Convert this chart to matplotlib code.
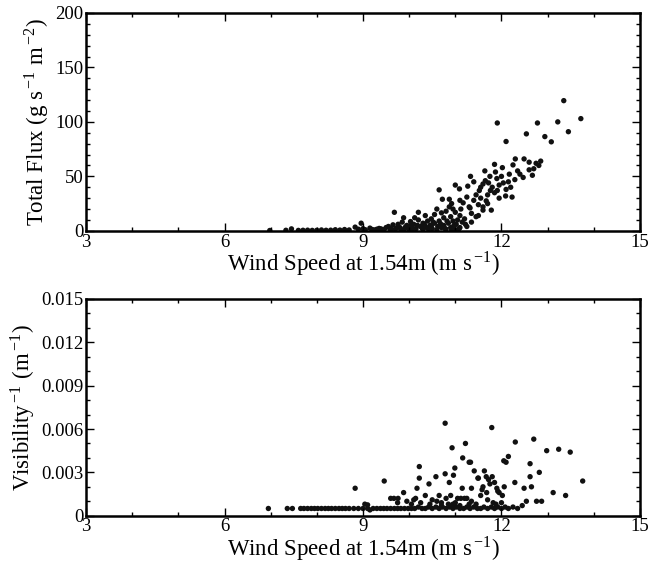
import matplotlib
matplotlib.use("Agg")
import matplotlib.pyplot as plt
from matplotlib.ticker import MultipleLocator, FixedLocator, FuncFormatter

plt.rcParams['font.family'] = ['Liberation Serif', 'DejaVu Serif']
plt.rcParams['mathtext.fontset'] = 'stix'

# ---- Top panel: total flux vs wind speed ----
flux_x = [6.98, 7.33, 7.45, 7.6, 7.7, 7.8, 7.9, 8.0, 8.1, 8.2, 8.3, 8.4, 8.5, 8.6, 8.7,
          8.83, 8.9, 8.96, 9.0, 9.05, 9.15, 9.2, 9.25, 9.3, 9.35, 9.39, 9.45, 9.5,
          9.55, 9.6, 9.65, 9.68, 9.7, 9.76, 9.8, 9.85, 9.88, 9.9, 9.95, 10.0, 10.03, 10.05,
          10.1, 10.12, 10.15, 10.2, 10.2, 10.25, 10.3, 10.3, 10.35, 10.38, 10.4, 10.45,
          10.48, 10.48, 10.5, 10.55, 10.55, 10.6, 10.6, 10.65, 10.65, 10.7, 10.7, 10.72,
          10.75, 10.75, 10.8, 10.8, 10.85, 10.87, 10.87, 10.9, 10.9, 10.92, 10.95, 10.97,
          11.0, 11.0, 11.0, 11.05, 11.09, 11.1, 11.1, 11.12, 11.17, 11.2, 11.22, 11.27,
          11.3, 11.32, 11.33, 11.35, 11.4, 11.45, 11.5, 11.52, 11.55, 11.6, 11.65, 11.64,
          11.67, 11.7, 11.72, 11.76, 11.78, 11.8, 11.85, 11.87, 11.9, 11.91, 11.95, 11.91,
          12.02, 12.04, 12.09, 12.1, 12.17, 12.2, 12.23, 12.25, 12.29, 12.3, 12.35, 12.47,
          12.49, 12.54, 12.6, 12.67, 12.7, 12.75, 12.78, 12.81, 12.94, 13.08, 13.22, 13.35,
          13.45, 13.72,
          11.4, 11.6, 11.75, 12.0, 11.45, 11.25, 11.85, 12.15, 11.95, 12.4, 12.6, 12.85,
          11.1, 10.95, 11.55, 11.7, 12.1, 11.5, 11.35, 11.6,
          9.6, 9.72, 9.82, 9.92, 10.02, 10.08, 10.18, 10.28, 10.33, 10.42, 10.52, 10.62,
          10.68, 10.78, 10.82, 10.92, 11.02, 11.08, 11.15, 11.25]
flux_y = [0.3, 0.5, 1.8, 0.4, 0.5, 0.6, 0.4, 0.5, 0.8, 0.5, 0.6, 1.0, 0.7, 1.2, 0.8,
          3.4, 1.5, 7.0, 2.0, 1.0, 2.5, 1.2, 0.8, 1.5, 2.2, 1.8, 1.0, 3.0,
          4.0, 2.0, 5.5, 17.0, 1.5, 6.0, 3.0, 8.0, 12.0, 2.0, 5.0, 1.0, 8.5, 3.0,
          6.0, 12.0, 2.0, 17.0, 10.0, 4.0, 7.0, 1.5, 14.0, 3.0, 9.0, 5.0,
          11.0, 4.6, 2.0, 15.0, 7.0, 1.0, 20.0, 37.6, 9.0, 16.5, 3.0, 29.0,
          12.0, 5.0, 18.0, 1.5, 7.0, 29.0, 22.0, 13.0, 3.0, 25.0, 9.0, 5.0,
          42.0, 17.0, 1.0, 10.0, 38.5, 14.0, 3.0, 20.0, 25.7, 11.0, 6.0, 41.0,
          22.0, 21.0, 50.0, 16.0, 28.0, 13.0, 24.0, 37.0, 30.0, 19.0, 46.0, 55.0,
          27.5, 33.0, 44.0, 37.0, 19.0, 40.0, 61.0, 54.0, 48.0, 37.0, 30.0, 99.0,
          58.0, 44.0, 32.0, 82.0, 52.0, 40.0, 31.0, 60.5, 47.0, 66.0, 55.0, 49.0,
          66.0, 89.0, 63.0, 51.0, 57.0, 62.0, 99.0, 60.0, 86.5, 81.7, 100.0, 119.5,
          91.0, 103.0,
          45.0, 43.0, 50.0, 50.0, 33.0, 31.0, 35.0, 45.0, 42.0, 52.0, 56.0, 64.0,
          28.0, 20.0, 40.0, 25.0, 38.0, 14.0, 8.0, 22.0,
          0.8, 2.5, 1.0, 3.5, 4.5, 2.0, 5.0, 2.5, 6.0, 1.5, 8.0, 4.0,
          6.5, 2.0, 9.0, 1.0, 6.0, 2.0, 8.0, 4.0]

# ---- Bottom panel: inverse visibility vs wind speed ----
vis_x = [6.95, 7.36, 7.47, 7.65, 7.72, 7.8, 7.88, 7.95, 8.02, 8.1, 8.18, 8.25, 8.32, 8.4,
         8.48, 8.55, 8.62, 8.7, 8.8, 8.9, 9.0, 9.1, 9.15, 9.22, 9.3, 9.38, 9.45, 9.52,
         9.6, 9.68, 9.75, 9.82, 9.9, 9.98, 10.05, 10.12, 10.2, 10.28, 10.35, 10.42, 10.5,
         10.58, 10.65, 10.72, 10.8, 10.88, 10.95, 11.02, 11.1, 11.18, 11.25, 11.32, 11.4,
         11.48, 11.55, 11.62, 11.7, 11.78, 11.85, 11.92, 12.0, 12.08, 12.15, 12.25, 12.35,
         8.83, 9.04, 9.1, 9.46, 9.6, 9.67, 9.76, 9.88, 10.1, 10.14, 10.17, 10.22, 10.22,
         10.35, 10.43, 10.58, 10.65, 10.78, 10.78, 10.87, 10.9, 10.93, 10.96, 10.99, 11.15,
         11.16, 11.2, 11.22, 11.3, 11.33, 11.35, 11.41, 11.49, 11.5, 11.6, 11.63, 11.67,
         11.72, 11.79, 11.8, 11.85, 11.9, 11.95, 12.02, 12.05, 12.06, 12.1, 12.15, 12.29,
         12.3, 12.49, 12.54, 12.62, 12.62, 12.65, 12.7, 12.76, 12.82, 12.87, 12.98, 13.12,
         13.24, 13.39, 13.49, 13.76,
         9.75, 9.95, 10.05, 10.25, 10.45, 10.5, 10.6, 10.7, 10.8, 10.85, 11.0, 11.05,
         11.12, 11.25, 11.35, 11.45, 11.55, 11.7, 11.82, 11.88, 12.0, 12.45, 11.58, 11.75,
         11.68, 11.92, 11.3, 11.1, 10.7, 10.95]
vis_y = [0.0005, 0.0005, 0.0005, 0.0005, 0.0005, 0.0005, 0.0005, 0.0005, 0.0005, 0.0005,
         0.0005, 0.0005, 0.0005, 0.0005, 0.0005, 0.0005, 0.0005, 0.0005, 0.0005, 0.0005,
         0.0005, 0.0005, 0.0004, 0.0005, 0.0005, 0.0005, 0.0005, 0.0005, 0.0005, 0.0005,
         0.0005, 0.0005, 0.0005, 0.0005, 0.0005, 0.0005, 0.0006, 0.0005, 0.0005, 0.0006,
         0.0005, 0.0006, 0.0005, 0.0006, 0.0005, 0.0006, 0.0005, 0.0006, 0.0005, 0.0005,
         0.0006, 0.0005, 0.0006, 0.0005, 0.0005, 0.0006, 0.0005, 0.0006, 0.0005, 0.0006,
         0.0005, 0.0006, 0.0005, 0.0006, 0.0005,
         0.0019, 0.0008, 0.00075, 0.0024, 0.0012, 0.0012, 0.0012, 0.0016, 0.0011, 0.0012,
         0.0019, 0.0034, 0.0026, 0.0014, 0.0022, 0.0027, 0.0014, 0.0064, 0.0029, 0.0023,
         0.0014, 0.0047, 0.0028, 0.0033, 0.0019, 0.0040, 0.0012, 0.0050, 0.0037, 0.0037,
         0.0019, 0.0031, 0.0026, 0.0026, 0.0020, 0.0031, 0.0027, 0.0025, 0.0061, 0.0027,
         0.0023, 0.0019, 0.0016, 0.0014, 0.0038, 0.0020, 0.0037, 0.0041, 0.0023, 0.0051,
         0.0019, 0.0010, 0.0036, 0.0027, 0.0020, 0.0053, 0.0010, 0.0030, 0.0010, 0.0045,
         0.0016, 0.0046, 0.0014, 0.0044, 0.0024,
         0.0009, 0.0010, 0.0008, 0.0009, 0.0008, 0.0011, 0.0010, 0.0009, 0.0012, 0.0008,
         0.0009, 0.0012, 0.0012, 0.0012, 0.0010, 0.0008, 0.0014, 0.0011, 0.0009, 0.0008,
         0.0009, 0.0007, 0.0018, 0.0022, 0.0016, 0.0017, 0.0008, 0.0007, 0.0007, 0.0008]

x_ticks = [3, 6, 9, 12, 15]
flux_ticks = [0, 50, 100, 150, 200]
vis_ticks = [0, 0.003, 0.006, 0.009, 0.012, 0.015]
vis_ticklabels = ['0', '0.003', '0.006', '0.009', '0.012', '0.015']

fig = plt.figure(figsize=(6.57, 5.63), dpi=100)
ax1 = fig.add_axes([0.131, 0.590, 0.843, 0.387])
ax2 = fig.add_axes([0.131, 0.084, 0.843, 0.385])

FS = 13.5
LFS = 16.5

def style(ax):
    for s in ax.spines.values():
        s.set_linewidth(1.8)
    ax.tick_params(which='both', direction='in', top=True, right=True,
                   labelsize=FS, width=1.0)
    ax.tick_params(which='major', length=6, pad=2)
    ax.tick_params(which='minor', length=3)
    ax.set_xlim(3, 15)
    ax.xaxis.set_major_locator(FixedLocator(x_ticks))
    ax.xaxis.set_minor_locator(MultipleLocator(1))

xlab = 'Wind Speed at 1.54m (m s$^{\\,\\mathregular{-1}}$)'

ax1.scatter(flux_x, flux_y, s=15, c='#111111', edgecolors='none')
style(ax1)
ax1.set_ylim(0, 200)
ax1.yaxis.set_major_locator(FixedLocator(flux_ticks))
ax1.yaxis.set_minor_locator(MultipleLocator(10))
ax1.set_xlabel(xlab, fontsize=LFS, labelpad=-1)
ax1.set_ylabel('Total Flux (g s$^{\\,\\mathregular{-1}}$ m$^{\\,\\mathregular{-2}}$)', fontsize=LFS, labelpad=3)

ax2.scatter(vis_x, vis_y, s=15, c='#111111', edgecolors='none')
style(ax2)
ax2.set_ylim(0, 0.015)
ax2.yaxis.set_major_locator(FixedLocator(vis_ticks))
ax2.yaxis.set_major_formatter(FuncFormatter(lambda v, p: vis_ticklabels[p] if p is not None and p < len(vis_ticklabels) else ''))
ax2.yaxis.set_minor_locator(MultipleLocator(0.001))
ax2.set_xlabel(xlab, fontsize=LFS, labelpad=-1)
ax2.set_ylabel('Visibility$^{\\,\\mathregular{-1}}$ (m$^{\\,\\mathregular{-1}}$)', fontsize=LFS, labelpad=3)

fig.savefig('out.png', dpi=100)
